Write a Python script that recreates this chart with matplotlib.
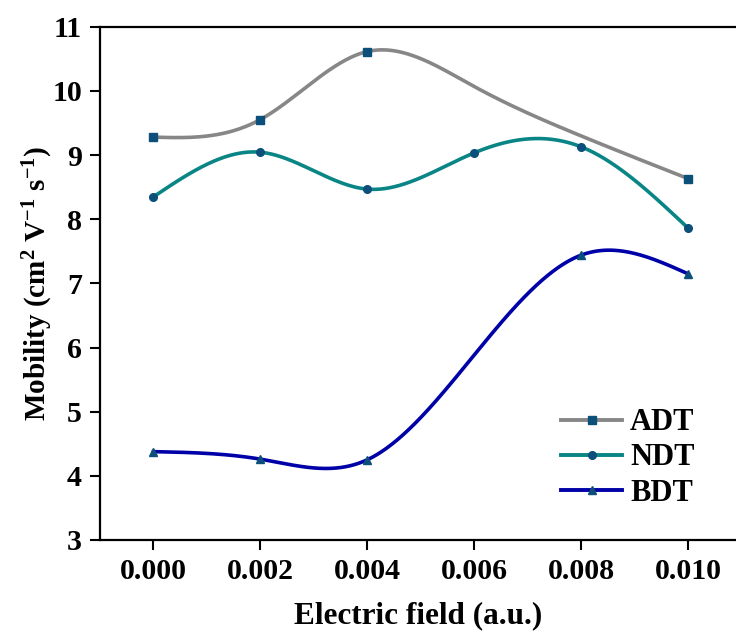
import numpy as np
import matplotlib
matplotlib.use("Agg")
import matplotlib.pyplot as plt

plt.rcParams['font.family'] = ['Liberation Serif', 'DejaVu Serif']
plt.rcParams['font.weight'] = 'bold'
plt.rcParams['mathtext.fontset'] = 'custom'
plt.rcParams['mathtext.rm'] = 'Liberation Serif:bold'
plt.rcParams['mathtext.bf'] = 'Liberation Serif:bold'
plt.rcParams['mathtext.default'] = 'bf'

# mobility vs electric field
field = [0.000, 0.002, 0.004, 0.006, 0.008, 0.010]
adt = [9.28, 9.555, 10.615, 10.07, 9.30, 8.635]
adt_mark = [True, True, True, False, False, True]
ndt = [8.35, 9.045, 8.47, 9.035, 9.13, 7.865]
ndt_mark = [True, True, True, True, True, True]
bdt_x = [0.000, 0.002, 0.004, 0.008, 0.010]
bdt = [4.377, 4.26, 4.25, 7.44, 7.15]

yticks = [3, 4, 5, 6, 7, 8, 9, 10, 11]


def natural_spline(x, y, n=400):
    # natural cubic spline through the points
    x = np.asarray(x, float)
    y = np.asarray(y, float)
    m = len(x)
    h = np.diff(x)
    A = np.zeros((m, m))
    r = np.zeros(m)
    A[0, 0] = 1
    A[-1, -1] = 1
    for i in range(1, m - 1):
        A[i, i - 1] = h[i - 1]
        A[i, i] = 2 * (h[i - 1] + h[i])
        A[i, i + 1] = h[i]
        r[i] = 3 * ((y[i + 1] - y[i]) / h[i] - (y[i] - y[i - 1]) / h[i - 1])
    c = np.linalg.solve(A, r)
    xs = np.linspace(x[0], x[-1], n)
    idx = np.clip(np.searchsorted(x, xs) - 1, 0, m - 2)
    dx = xs - x[idx]
    b = (y[1:] - y[:-1]) / h - h * (2 * c[:-1] + c[1:]) / 3
    d = (c[1:] - c[:-1]) / (3 * h)
    ys = y[idx] + b[idx] * dx + c[idx] * dx ** 2 + d[idx] * dx ** 3
    return xs, ys


fig = plt.figure(figsize=(7.36, 6.39), dpi=100)
ax = fig.add_axes([0.1359, 0.155, 0.8641, 0.803])

mcol = '#0b4f7a'
series = [
    ('ADT', field, adt, adt_mark, '#878787', 's'),
    ('NDT', field, ndt, ndt_mark, '#0a8585', 'o'),
    ('BDT', bdt_x, bdt, [True] * len(bdt), '#0000a8', '^'),
]
for name, x, y, mask, col, mk in series:
    xs, ys = natural_spline(x, y)
    ax.plot(xs, ys, color=col, lw=2.6, zorder=2)
    px = [a for a, k in zip(x, mask) if k]
    py = [b for b, k in zip(y, mask) if k]
    ax.plot(px, py, ls='none', marker=mk, ms=5.5, color=mcol, zorder=3)
    ax.plot([], [], color=col, lw=2.8, marker=mk, ms=5.5,
            mfc=mcol, mec=mcol, label=name)

ax.set_xlim(-0.001, 0.0109)
ax.set_ylim(3, 11)
ax.set_xticks(field)
ax.set_xticklabels([f'{v:.3f}' for v in field])
ax.set_yticks(yticks)
ax.tick_params(direction='out', length=7, width=1.5, labelsize=21.5, pad=6)
for s in ['left', 'bottom', 'top']:
    ax.spines[s].set_linewidth(1.6)
ax.spines['right'].set_visible(False)

ax.set_xlabel('Electric field (a.u.)', fontsize=22.5, fontweight='bold', labelpad=12)
ax.set_ylabel(r'Mobility (cm$^{2}$ V$^{-1}$ s$^{-1}$)', fontsize=21,
              fontweight='bold', labelpad=-2)

ax.legend(loc='upper left', bbox_to_anchor=(0.682, 0.31), frameon=False,
          fontsize=22, handlelength=2.0, handletextpad=0.25, labelspacing=0.2,
          borderaxespad=0.5)

fig.savefig('out.png', dpi=100)
